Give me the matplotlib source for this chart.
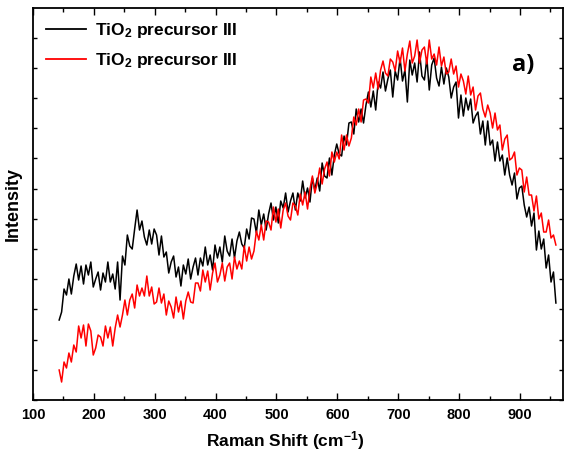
import matplotlib.pyplot as plt
from matplotlib.ticker import MultipleLocator

plt.rcParams['font.family'] = ['Liberation Sans', 'DejaVu Sans']
plt.rcParams['font.weight'] = 'bold'
plt.rcParams['mathtext.fontset'] = 'custom'
plt.rcParams['mathtext.rm'] = 'Liberation Sans'
plt.rcParams['mathtext.bf'] = 'Liberation Sans:bold'
plt.rcParams['mathtext.it'] = 'Liberation Sans:italic'
plt.rcParams['mathtext.default'] = 'bf'

# Raman shift (cm-1), one reading every 4 cm-1
shift = list(range(143, 960, 4))

# black spectrum, arbitrary intensity
black = [
    80, 88, 111, 105, 121, 106, 124, 136, 120, 134,
    116, 135, 125, 138, 113, 121, 128, 110, 127, 118,
    138, 118, 126, 111, 138, 100, 144, 135, 165, 154,
    151, 171, 190, 170, 179, 163, 155, 170, 156, 171,
    165, 145, 164, 143, 148, 127, 138, 144, 123, 133,
    114, 135, 126, 141, 121, 133, 142, 125, 142, 134,
    153, 135, 145, 130, 155, 142, 153, 138, 164, 149,
    144, 161, 142, 159, 168, 156, 152, 171, 161, 182,
    181, 167, 190, 175, 186, 170, 186, 197, 180, 193,
    177, 199, 192, 207, 188, 199, 207, 190, 207, 199,
    219, 202, 212, 198, 222, 210, 222, 209, 237, 224,
    222, 242, 225, 245, 256, 246, 244, 264, 255, 277,
    278, 266, 291, 278, 291, 277, 295, 308, 293, 309,
    290, 318, 312, 328, 309, 321, 330, 303, 329, 320,
    342, 319, 330, 298, 340, 325, 337, 318, 348, 324,
    320, 342, 310, 335, 342, 322, 314, 333, 316, 332,
    323, 302, 313, 318, 282, 305, 284, 302, 290, 301,
    277, 284, 288, 266, 279, 255, 279, 255, 260, 239,
    258, 239, 245, 225, 242, 225, 215, 227, 201, 212,
    214, 195, 183, 193, 174, 187, 150, 169, 151, 161,
    132, 145, 118, 128, 97,
]

# red spectrum, arbitrary intensity
red = [
    30, 18, 38, 32, 47, 38, 55, 48, 74, 62,
    75, 54, 76, 69, 45, 52, 65, 63, 54, 74,
    62, 73, 54, 72, 85, 73, 85, 100, 85, 100,
    106, 92, 115, 104, 112, 104, 124, 104, 113, 96,
    98, 112, 97, 106, 85, 99, 93, 82, 103, 88,
    99, 81, 99, 108, 98, 97, 117, 117, 109, 130,
    118, 129, 110, 127, 137, 118, 125, 137, 119, 133,
    137, 121, 143, 131, 139, 131, 154, 139, 153, 141,
    149, 169, 160, 175, 160, 179, 178, 170, 193, 178,
    191, 172, 190, 197, 184, 180, 197, 194, 185, 206,
    195, 208, 191, 211, 224, 207, 217, 232, 216, 231,
    238, 224, 248, 238, 248, 241, 265, 250, 265, 254,
    262, 283, 275, 291, 278, 300, 301, 297, 323, 312,
    327, 311, 330, 339, 327, 324, 341, 338, 329, 349,
    337, 352, 329, 346, 359, 337, 344, 360, 337, 350,
    353, 336, 360, 341, 346, 335, 353, 334, 343, 326,
    328, 341, 326, 334, 313, 326, 319, 306, 324, 305,
    313, 290, 304, 307, 291, 283, 295, 287, 272, 287,
    270, 275, 250, 261, 265, 240, 242, 248, 225, 232,
    230, 208, 223, 205, 205, 189, 204, 181, 187, 168,
    168, 180, 162, 165, 155,
]

labels = ['TiO$_2$ precursor III', 'TiO$_2$ precursor III']

fig = plt.figure(figsize=(5.64, 4.61), dpi=100)
ax = fig.add_axes([0.0585, 0.1323, 0.939, 0.8503])

ax.plot(shift, black, color='black', lw=1.1, label=labels[0])
ax.plot(shift, red, color='red', lw=1.1, label=labels[1])

ax.set_xlim(100, 970)
ax.set_ylim(0, 392)
ax.xaxis.set_major_locator(MultipleLocator(100))
ax.xaxis.set_minor_locator(MultipleLocator(50))
ax.yaxis.set_major_locator(MultipleLocator(30.2))
ax.tick_params(axis='x', which='major', direction='in', length=5, width=1,
               top=True, labelsize=10.5, pad=6)
ax.tick_params(axis='x', which='minor', direction='in', length=3, width=1, top=True)
ax.tick_params(axis='y', which='major', direction='in', length=3, width=1,
               right=True, labelleft=False)
for lab in ax.get_xticklabels():
    lab.set_fontweight('bold')
for sp in ax.spines.values():
    sp.set_linewidth(1.3)

ax.set_xlabel('Raman Shift (cm$^{\\mathregular{-1}}$)', fontsize=12.5, fontweight='bold')
ax.xaxis.set_label_coords(0.476, -0.075)
ax.set_ylabel('Intensity', fontsize=13, fontweight='bold', labelpad=8)

leg = ax.legend(loc='upper left', frameon=False, fontsize=12.5, handlelength=2.3,
                borderaxespad=0.35, labelspacing=0.65, handletextpad=0.5)
for line in leg.get_lines():
    line.set_linewidth(1.3)
for t in leg.get_texts():
    t.set_fontweight('bold')

ax.text(0.925, 0.855, 'a)', transform=ax.transAxes, fontsize=17, fontweight='bold',
        family=['Open Sans', 'DejaVu Sans'], ha='center', va='center')

fig.savefig('out.png', dpi=100)
